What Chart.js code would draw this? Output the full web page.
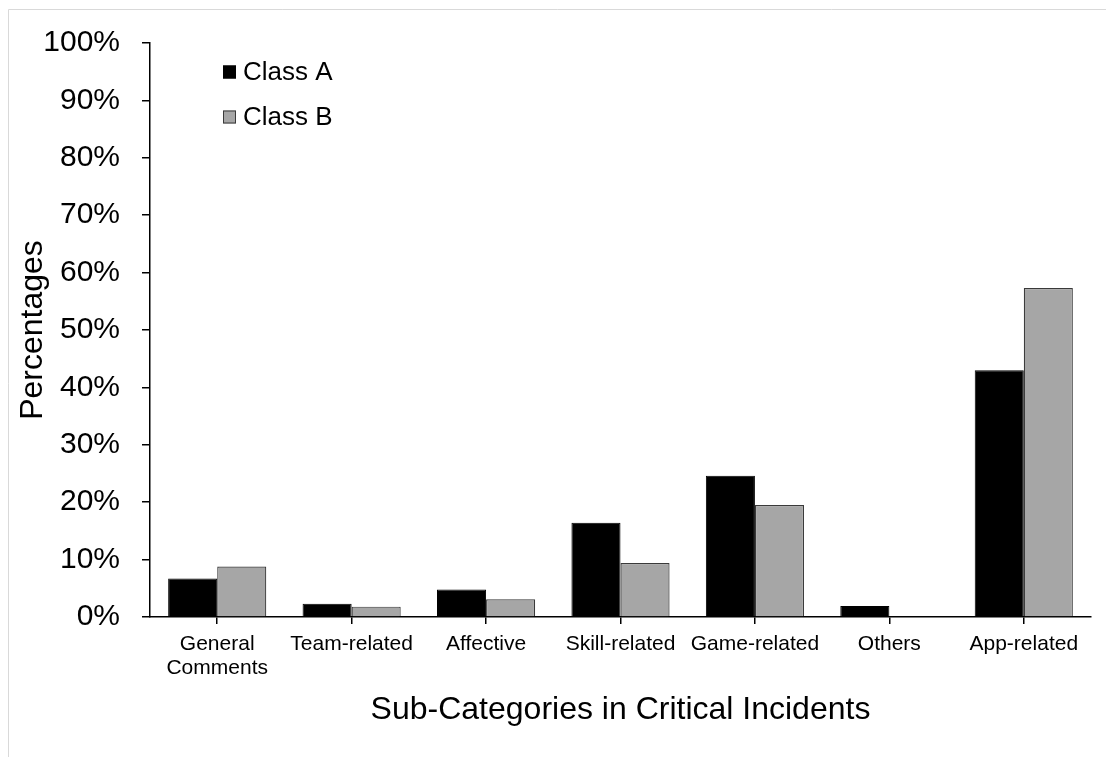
<!DOCTYPE html>
<html>
<head>
<meta charset="utf-8">
<title>Sub-Categories in Critical Incidents</title>
<script src="https://cdn.jsdelivr.net/npm/chart.js@4.4.1/dist/chart.umd.min.js"></script>
<style>
	html, body { margin: 0; padding: 0; background: #fff; }
	#wrap { width: 1106px; height: 757px; position: relative; }
</style>
</head>
<body>
<div id="wrap"><canvas id="myChart" width="1106" height="757"></canvas></div>
<script>
var categories = [
	["General", "Comments"],
	"Team-related",
	"Affective",
	"Skill-related",
	"Game-related",
	"Others",
	"App-related",
];
var classA = [6.7, 2.3, 4.8, 16.4, 24.6, 1.9, 43.0];
var classB = [8.8, 1.8, 3.1, 9.4, 19.5, 0, 57.3];
var yTicks = [0, 10, 20, 30, 40, 50, 60, 70, 80, 90, 100];

var FONT = "'Liberation Sans', Arial, sans-serif";

// light frame around the figure (top and left edges only)
var framePlugin = {
	id: "frame",
	beforeDraw: function (chart) {
		var c = chart.ctx;
		c.save();
		c.strokeStyle = "#d9d9d9";
		c.lineWidth = 1;
		c.beginPath();
		c.moveTo(8.5, chart.height);
		c.lineTo(8.5, 9.5);
		c.lineTo(chart.width, 9.5);
		c.stroke();
		c.restore();
	},
};

// legend drawn inside the plot, top-left
var boxLegend = {
	id: "boxLegend",
	afterDraw: function (chart) {
		var c = chart.ctx;
		var x = 223, y = 72, gap = 45, box = 13;
		c.save();
		c.font = "26px " + FONT;
		c.textBaseline = "middle";
		chart.data.datasets.forEach(function (ds, i) {
			var yy = y + i * gap;
			c.fillStyle = ds.backgroundColor;
			c.fillRect(x, yy - box / 2, box, box);
			c.strokeStyle = ds.borderColor;
			c.lineWidth = 1;
			c.strokeRect(x + 0.5, yy - box / 2 + 0.5, box - 1, box - 1);
			c.fillStyle = "#000";
			c.fillText(ds.label, x + 20, yy + 1);
		});
		c.restore();
	},
};

var ctx = document.getElementById("myChart").getContext("2d");
var myChart = new Chart(ctx, {
	type: "bar",
	data: {
		labels: categories,
		datasets: [
			{
				label: "Class A",
				data: classA,
				backgroundColor: "#000000",
				borderColor: "#000000",
				borderWidth: 1,
			},
			{
				label: "Class B",
				data: classB,
				backgroundColor: "#a6a6a6",
				borderColor: "#3a3a3a",
				borderWidth: 1.2,
			},
		],
	},
	options: {
		responsive: false,
		animation: false,
		devicePixelRatio: 1,
		categoryPercentage: 0.73,
		barPercentage: 1,
		layout: {
			padding: { top: 43, right: 15, left: 0, bottom: 0 },
		},
		plugins: {
			legend: { display: false },
			tooltip: { enabled: false },
		},
		scales: {
			x: {
				afterFit: function (scale) {
					scale.height = 140;
				},
				grid: {
					display: true,
					offset: false,
					drawOnChartArea: false,
					drawTicks: true,
					tickLength: 7,
					color: "#000",
					lineWidth: 1.5,
				},
				border: { display: true, color: "#000", width: 1.5 },
				ticks: {
					color: "#000",
					font: { family: FONT, size: 21, lineHeight: 1.15 },
					padding: 8,
					maxRotation: 0,
					autoSkip: false,
				},
				title: {
					display: true,
					text: "Sub-Categories in Critical Incidents",
					color: "#000",
					font: { family: FONT, size: 32 },
					padding: { top: 0, bottom: 28 },
				},
			},
			y: {
				min: 0,
				max: 100,
				afterFit: function (scale) {
					scale.width = 150;
				},
				afterBuildTicks: function (scale) {
					scale.ticks = yTicks.map(function (v) {
						return { value: v };
					});
				},
				grid: {
					display: true,
					drawOnChartArea: false,
					drawTicks: true,
					tickLength: 8,
					color: "#000",
					lineWidth: 1.5,
				},
				border: { display: true, color: "#000", width: 1.5 },
				ticks: {
					color: "#000",
					font: { family: FONT, size: 30 },
					padding: 22,
					callback: function (v) {
						return v + "%";
					},
				},
				title: {
					display: true,
					text: "Percentages",
					color: "#000",
					font: { family: FONT, size: 32 },
					padding: { top: 14, bottom: 0 },
				},
			},
		},
	},
	plugins: [framePlugin, boxLegend],
});
</script>
</body>
</html>
